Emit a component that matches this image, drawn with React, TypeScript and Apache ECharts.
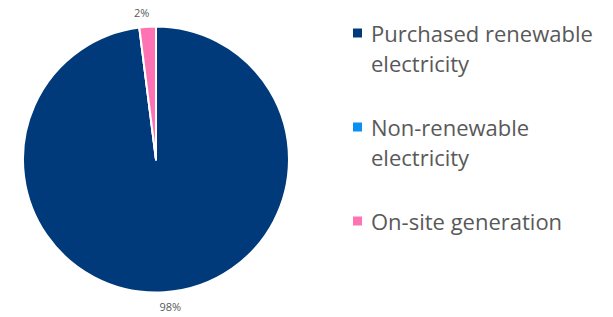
import React, { useEffect, useRef } from 'react';
import * as echarts from 'echarts';

const categories = ['Purchased renewable electricity', 'Non-renewable electricity', 'On-site generation'];
const legendLines = [['Purchased renewable', 'electricity'], ['Non-renewable', 'electricity'], ['On-site generation']];
const values = [98, 0, 2];
const colors = ['#003A7A', '#0A90F0', '#FF73B5'];

export default function App() {
  const ref = useRef<HTMLDivElement>(null);
  useEffect(() => {
    if (!ref.current) return;
    const chart = echarts.init(ref.current, undefined, { renderer: 'svg' });
    const labelMap: Record<string, string> = {};
    categories.forEach((c, i) => {
      const lines = legendLines[i].map((l) => `{t|${l}}`);
      // pad to three lines so that the first text line sits level with the marker
      const padded = ['{s| }', ...lines];
      while (padded.length < 3) padded.push('{s| }');
      labelMap[c] = padded.join('\n');
    });
    chart.setOption({
      animation: false,
      color: colors,
      legend: {
        orient: 'vertical',
        left: 351,
        top: -12,
        padding: 0,
        icon: 'rect',
        itemWidth: 11,
        itemHeight: 11,
        itemGap: 4,
        selectedMode: false,
        formatter: (name: string) => labelMap[name],
        textStyle: {
          fontFamily: 'Open Sans',
          fontSize: 22,
          color: '#595959',
          lineHeight: 30,
          rich: {
            t: {
              fontFamily: 'Open Sans',
              fontSize: 22,
              color: '#595959',
              lineHeight: 30,
              padding: [0, 0, 0, 3],
            },
            s: { fontSize: 22, lineHeight: 30 },
          },
        },
        data: categories,
      },
      series: [
        {
          type: 'pie',
          center: [156, 159.5],
          radius: 133,
          startAngle: 90,
          clockwise: true,
          avoidLabelOverlap: false,
          itemStyle: { borderColor: '#ffffff', borderWidth: 2 },
          label: {
            show: true,
            position: 'outside',
            formatter: (p: any) => p.value + '%',
            fontFamily: 'Open Sans',
            fontSize: 11,
            color: '#595959',
          },
          labelLine: { show: false, length: 14, length2: 0 },
          labelLayout: { align: 'center', verticalAlign: 'middle' },
          data: categories.map((c, i) => ({
            name: c,
            value: values[i],
            label: { show: values[i] > 0 },
          })),
        },
      ],
    });
    return () => chart.dispose();
  }, []);
  return (
    <div
      ref={ref}
      style={{ position: 'fixed', left: 0, top: 0, width: 613, height: 317, background: '#fff' }}
    />
  );
}
